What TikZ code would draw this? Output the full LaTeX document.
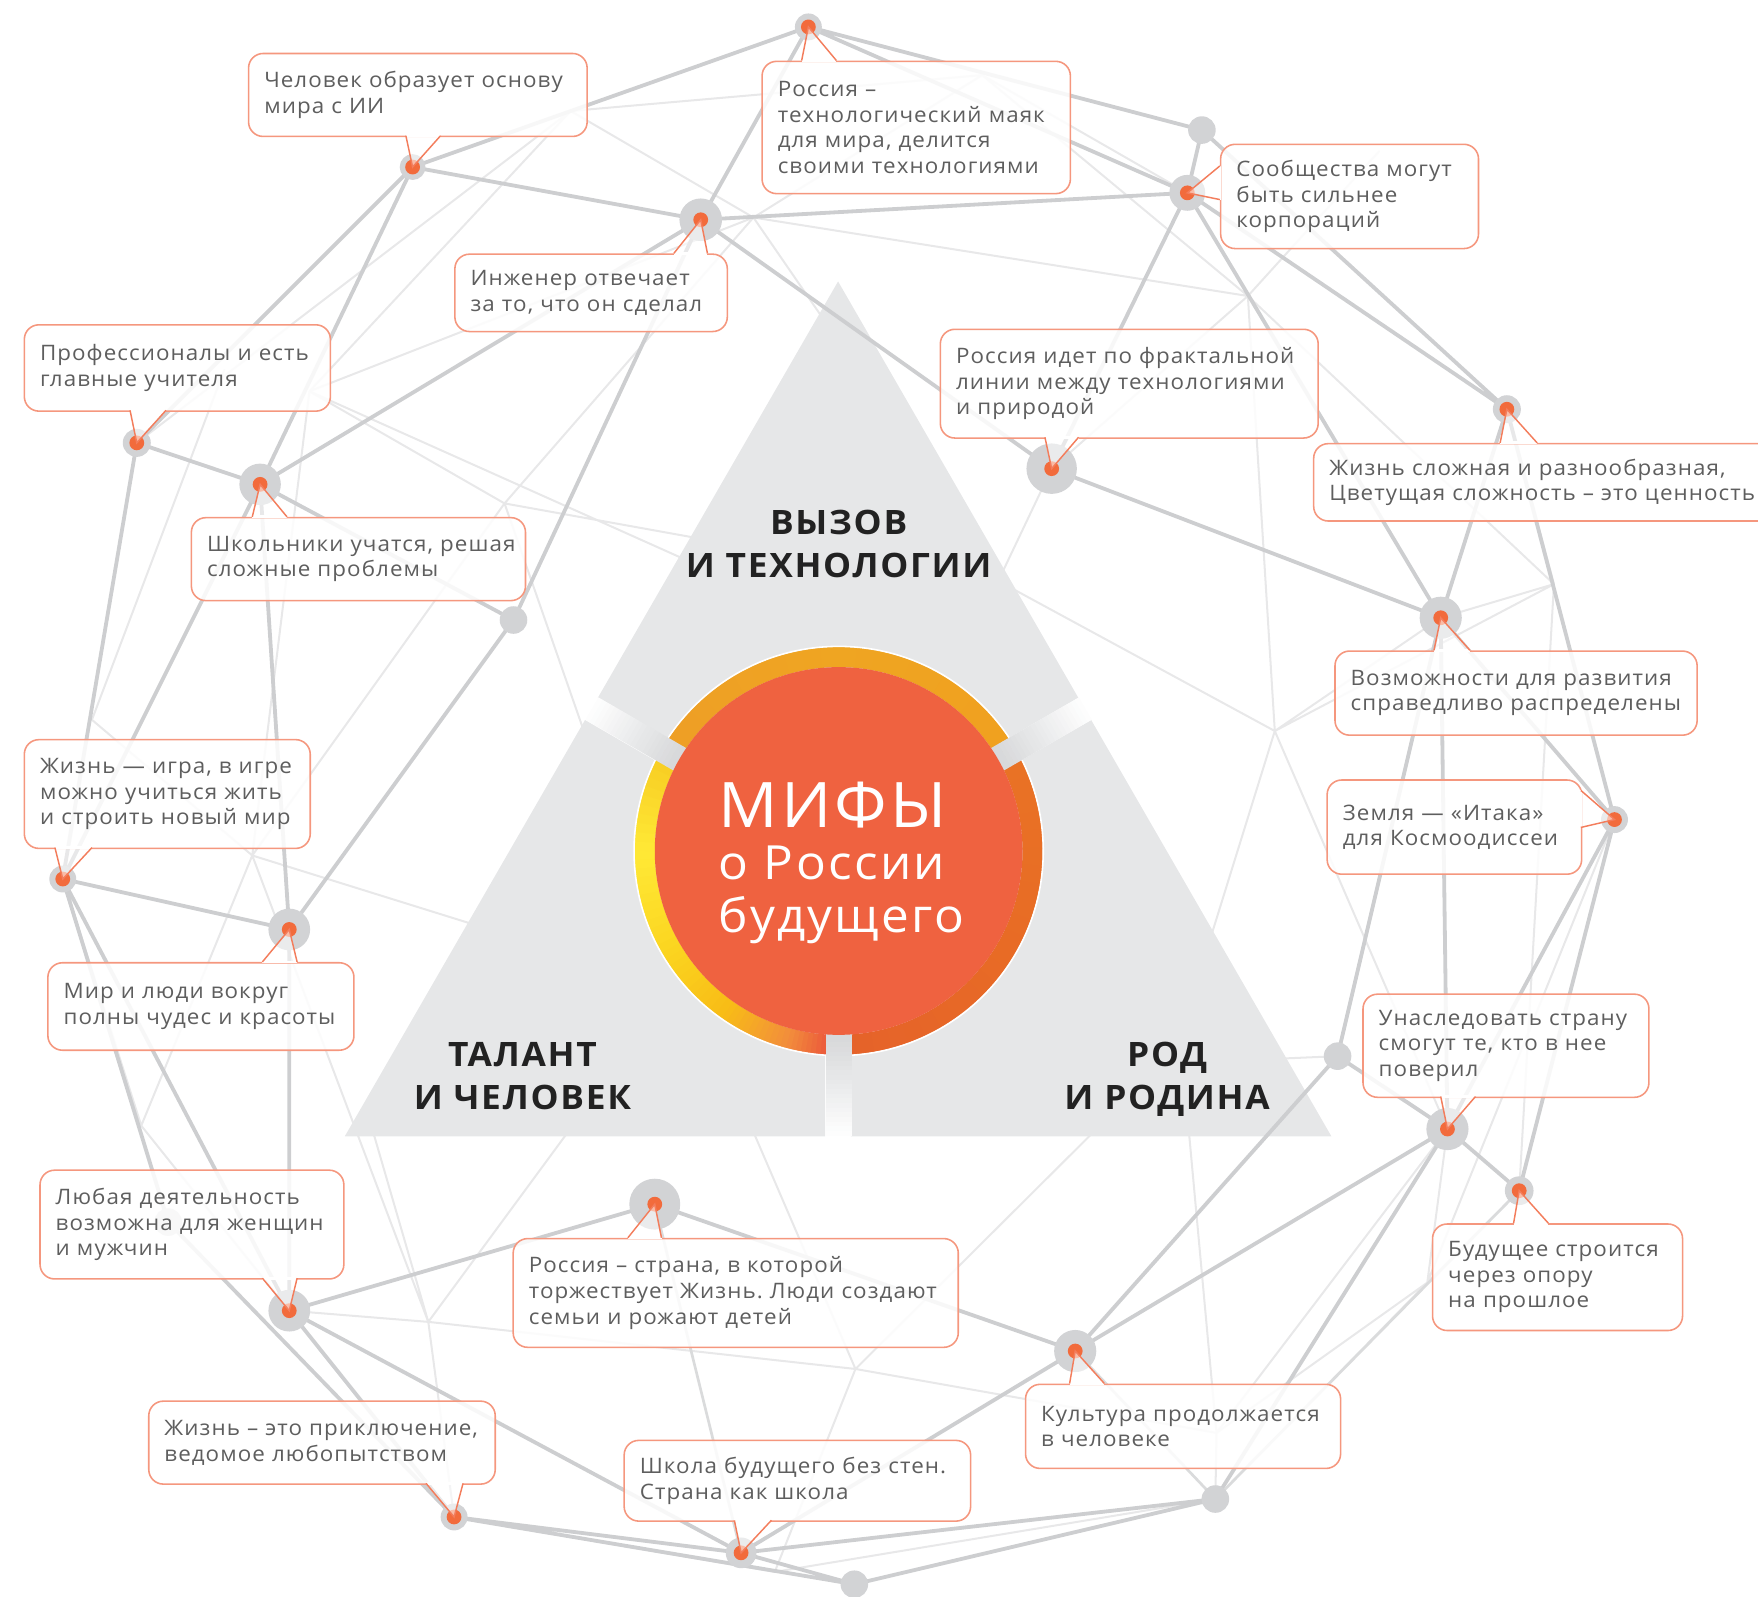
\documentclass[tikz,border=0pt]{standalone}
\usepackage{fontspec}
\setmainfont{Open Sans}[LetterSpace=5, FakeStretch=1.05]
\definecolor{dkc}{HTML}{CDCED0}
\definecolor{mdc}{HTML}{DADBDC}
\definecolor{ltc}{HTML}{E8E8E9}
\definecolor{haloc}{HTML}{D2D3D5}
\definecolor{dotc}{HTML}{F26B3C}
\definecolor{boxc}{HTML}{F5977E}
\definecolor{ptrc}{HTML}{F37D5C}
\definecolor{txtc}{HTML}{5E5E5E}
\definecolor{tric}{HTML}{E6E7E8}
\definecolor{bandc}{HTML}{D8D9DB}
\definecolor{corec}{HTML}{EF6240}
\definecolor{ttlc}{HTML}{222222}
\definecolor{rRed}{HTML}{E8413A}
\definecolor{rOra}{HTML}{F28D3C}
\definecolor{rGold}{HTML}{F8BC16}
\definecolor{rYel}{HTML}{FBD520}
\definecolor{rBri}{HTML}{FFE936}
\definecolor{rUL}{HTML}{F6C820}
\definecolor{rTopL}{HTML}{EE9E26}
\definecolor{rTop}{HTML}{EFA522}
\definecolor{rTopR}{HTML}{F0A01F}
\definecolor{rRT}{HTML}{E97325}
\definecolor{rRight}{HTML}{E86B25}
\definecolor{rRB}{HTML}{E5622A}
\newcommand\ringseg[4]{%
  \foreach \i in {0,...,11}{%
    \pgfmathsetmacro\sa{#1+(#2-#1)*\i/12}%
    \pgfmathsetmacro\ea{#1+(#2-#1)*(\i+1)/12+0.6}%
    \pgfmathtruncatemacro\pc{100-(\i+0.5)*100/12}%
    \draw[line width=18pt, draw={#3!\pc!#4}] (748,759) ++(\sa:173) arc[start angle=\sa, end angle=\ea, radius=173];
  }}
\newcommand\ptr[3]{%
  \fill[white, fill opacity=0.55] #1 -- #3 -- #2 -- cycle;
  \draw[white, line width=2.6pt] #1 -- #2;
  \draw[ptrc, line width=1.3pt, line join=miter] #1 -- #3 -- #2;}
\frenchspacing
\begin{document}
\begin{tikzpicture}[x=1pt,y=-1pt,
  dkl/.style={draw=dkc, line width=3.4pt, line cap=round},
  mdl/.style={draw=mdc, line width=2.4pt, line cap=round},
  ltl/.style={draw=ltc, line width=1.8pt, line cap=round},
  mbox/.style={draw=boxc, line width=1.4pt, rounded corners=13pt, fill=white, fill opacity=0.85, text opacity=1, text=txtc, align=left, inner xsep=14pt, inner ysep=0pt, anchor=north west, font=\fontsize{19}{22.8}\selectfont},
  ttl/.style={font=\bfseries\fontsize{30}{36}\selectfont, text=ttlc, inner sep=0pt, anchor=base},
  coretxt/.style={text=white, inner sep=0pt, anchor=base west}]
\useasboundingbox (0,0) rectangle (1568,1424);
% ---------- node positions ----------
\coordinate (n1) at (721,24);   \coordinate (n2) at (368,149);
\coordinate (n3) at (625,196);  \coordinate (n4) at (1072,116);
\coordinate (n5) at (1059,172); \coordinate (n6) at (122,395);
\coordinate (n7) at (232,432);  \coordinate (n8) at (938,418);
\coordinate (n9) at (1344,365); \coordinate (n10) at (458,553);
\coordinate (n11) at (1285,551);\coordinate (n12) at (56,784);
\coordinate (n13) at (1440,731);\coordinate (n14) at (258,829);
\coordinate (n15) at (1193,942);\coordinate (n16) at (1291,1007);
\coordinate (n17) at (584,1074);\coordinate (n18) at (1355,1062);
\coordinate (n19) at (258,1169);\coordinate (n20) at (959,1205);
\coordinate (n21) at (405,1353);\coordinate (n22) at (661,1385);
\coordinate (n23) at (1084,1337);\coordinate (n24) at (762,1413);
\coordinate (n25) at (150,1090);
% hidden junctions of the light web
\coordinate (ja) at (509,99);   \coordinate (jb) at (876,67);
\coordinate (jc) at (672,194);  \coordinate (jd) at (276,349);
\coordinate (je) at (450,449);  \coordinate (jf) at (1113,264);
\coordinate (jg) at (1386,521); \coordinate (jh) at (1137,652);
\coordinate (ji) at (82,642);   \coordinate (jj) at (225,763);
\coordinate (jk) at (126,1004); \coordinate (jl) at (382,1179);
\coordinate (jm) at (763,1221); \coordinate (jn) at (691,1402);
\coordinate (jo) at (1085,1278);\coordinate (jp) at (1273,1144);
% ends hidden under the triangles / boxes
\coordinate (te1) at (745,300);  \coordinate (te2) at (650,485);
\coordinate (te3) at (880,540);  \coordinate (te4) at (890,518);
\coordinate (te5) at (1060,900); \coordinate (te6) at (1100,946);
\coordinate (te7) at (440,830);  \coordinate (te8) at (527,670);
\coordinate (te9) at (510,1005); \coordinate (te10) at (330,1000);
\coordinate (te11) at (670,1005);\coordinate (te12) at (980,1005);
\coordinate (te13) at (1060,1005);\coordinate (te14) at (1230,135);
\coordinate (te15) at (200,330); \coordinate (te16) at (640,512);
% ---------- light web ----------
\draw[ltl] (ja)--(jb) (ja)--(jc) (ja)--(jd) (ja)--(n6) (jb)--(n5) (jb)--(jc)
  (jb)--(jf) (jc)--(jf) (jc)--(te1) (jc)--(je) (jd)--(jc) (jd)--(je) (jd)--(jj)
  (jd)--(te16) (ji)--(te15) (je)--(te2) (je)--(jj) (jj)--(ji) (jj)--(te7)
  (jj)--(jl) (jj)--(jk) (je)--(te8) (jk)--(n12) (jk)--(n19) (jk)--(n21)
  (jl)--(jm) (jl)--(te9) (jl)--(te10) (jl)--(n19) (jl)--(n21) (jm)--(te11)
  (jm)--(te12) (jm)--(jn) (jm)--(jo) (jn)--(n21) (jn)--(n23) (jo)--(te13)
  (jo)--(jp) (jo)--(n23) (jo)--(n16) (jp)--(n16) (jp)--(n18) (jp)--(n13)
  (jp)--(n23) (jf)--(jh) (jf)--(n8) (jf)--(te14) (jf)--(jg) (jg)--(n9) (jg)--(jh)
  (jg)--(n11) (jg)--(n18) (jh)--(te4) (jh)--(te5) (jh)--(n11) (jh)--(n16)
  (n15)--(te6) (n8)--(te3);
% ---------- triangles ----------
\fill[tric] (747.5,251) -- (961.75,622.3) -- (747.5,746) -- (533.25,622.3) -- cycle;
\fill[tric] (521.75,642.2) -- (307.5,1013.5) -- (736,1013.5) -- (736,766) -- cycle;
\fill[tric] (973.25,642.2) -- (1187.5,1013.5) -- (759,1013.5) -- (759,766) -- cycle;
% ---------- dark web ----------
\draw[dkl] (n1)--(n2) (n1)--(n3) (n1)--(n4) (n1)--(n5) (n2)--(n3) (n2)--(n6)
  (n2)--(n7) (n3)--(n5) (n3)--(n7) (n3)--(n8) (n3)--(n10) (n4)--(n5) (n4)--(n9)
  (n5)--(n9) (n5)--(n8) (n5)--(n11) (n8)--(n11) (n9)--(n11) (n9)--(n13)
  (n11)--(n13) (n11)--(n15) (n11)--(n16) (n13)--(n16) (n13)--(n18) (n15)--(n16)
  (n16)--(n18) (n15)--(n20) (n16)--(n20) (n16)--(n23) (n20)--(n17) (n20)--(n22)
  (n22)--(n23) (n24)--(n23) (n22)--(n24) (n21)--(n22) (n21)--(n24) (n19)--(n21)
  (n19)--(n22) (n19)--(n17) (n12)--(n19) (n12)--(n25) (n25)--(n21) (n12)--(n14)
  (n14)--(n19) (n14)--(n10) (n10)--(n7) (n7)--(n14) (n7)--(n12) (n6)--(n7)
  (n6)--(n12);
\draw[mdl] (n18)--(n23) (n20)--(n23) (n17)--(n22);
% ---------- central circle ----------
\ringseg{88}{105}{rRed}{rOra}
\ringseg{105}{125}{rOra}{rGold}
\ringseg{125}{150}{rGold}{rYel}
\ringseg{150}{180}{rYel}{rBri}
\ringseg{180}{212}{rBri}{rUL}
\ringseg{208}{270}{rTopL}{rTop}
\ringseg{270}{332}{rTop}{rTopR}
\ringseg{328}{390}{rRT}{rRight}
\ringseg{390}{450}{rRight}{rRB}
\draw[white, line width=1.4pt] (748,759) circle (182.5);
\foreach \s in {90,210,330}{
  \foreach \k in {0,...,24}{
    \pgfmathsetmacro\ra{150+\k*4.15}
    \pgfmathtruncatemacro\pc{max(0,min(100,100*(254-\ra)/86))}
    \draw[line width=23pt, draw={bandc!\pc!white}] (748,759) ++(\s:\ra) -- ++(\s:4.6);
  }}
\node[circle, fill=corec, minimum size=328pt, inner sep=0pt] (core) at (748,759) {};
\node[coretxt, font=\fontsize{56}{60}\selectfont] (m1) at (641,738) {МИФЫ};
\node[coretxt, font=\fontsize{42}{46}\selectfont] (m2) at (641,784) {о России};
\node[coretxt, font=\fontsize{42}{46}\selectfont] (m3) at (641,832) {будущего};
% ---------- titles ----------
\node[ttl] (t1) at (748,477) {ВЫЗОВ};
\node[ttl] (t2) at (748,515) {И ТЕХНОЛОГИИ};
\node[ttl] (t3) at (466,951) {ТАЛАНТ};
\node[ttl] (t4) at (466,990) {И ЧЕЛОВЕК};
\node[ttl] (t5) at (1041,951) {РОД};
\node[ttl] (t6) at (1041,990) {И РОДИНА};
% ---------- node discs ----------
\foreach \n/\r in {n1/12,n2/11.5,n3/19,n5/16,n6/12.5,n7/18.5,n8/22.5,n9/12.5,
  n11/18.8,n12/12,n13/12,n14/18.6,n16/18.8,n17/22.7,n18/12.8,n19/18.6,n20/18.8,
  n21/12,n22/13.7}{
  \fill[haloc] (\n) circle (\r);
  \fill[dotc] (\n) circle (6.6);}
\foreach \n in {n4,n10,n15,n23,n24,n25}{\fill[haloc] (\n) circle (12.3);}
% ---------- callout boxes ----------
\node[mbox, minimum width=302pt, minimum height=74pt, text width=274pt] (b1) at (221,47)
  {Человек~образует~основу\\мира с ИИ};
\ptr{(362,121)}{(393,121)}{(n2)}
\node[mbox, minimum width=275pt, minimum height=118pt, text width=247pt] (b2) at (679,54)
  {Россия –\\технологический~маяк\\для~мира,~делится\\своими~технологиями};
\ptr{(715,54)}{(746,54)}{(n1)}
\node[mbox, minimum width=230pt, minimum height=93pt, text width=202pt] (b3) at (1088,128)
  {Сообщества~могут\\быть сильнее\\корпораций};
\ptr{(1088,148)}{(1088,178)}{(n5)}
\node[mbox, minimum width=243pt, minimum height=69pt, text width=215pt] (b4) at (405,226)
  {Инженер~отвечает\\за~то,~что~он~сделал};
\ptr{(601,226)}{(631,226)}{(n3)}
\node[mbox, minimum width=273pt, minimum height=77pt, text width=245pt] (b5) at (21,289)
  {Профессионалы~и~есть\\главные учителя};
\ptr{(116,366)}{(148,366)}{(n6)}
\node[mbox, minimum width=337pt, minimum height=97pt, text width=309pt] (b6) at (838,293)
  {Россия~идет~по~фрактальной\\линии~между~технологиями\\и природой};
\ptr{(932,390)}{(962,390)}{(n8)}
\node[mbox, minimum width=430pt, minimum height=69pt, text width=402pt] (b7) at (1171,395)
  {Жизнь~сложная~и~разнообразная,\\Цветущая~сложность~–~это~ценность};
\ptr{(1338,395)}{(1371,395)}{(n9)}
\node[mbox, minimum width=298pt, minimum height=74pt, text width=270pt] (b8) at (170,461)
  {Школьники~учатся,~решая\\сложные~проблемы};
\ptr{(225,461)}{(256,461)}{(n7)}
\node[mbox, minimum width=323pt, minimum height=75pt, text width=295pt] (b9) at (1190,580)
  {Возможности~для~развития\\справедливо~распределены};
\ptr{(1279,580)}{(1311,580)}{(n11)}
\node[mbox, minimum width=255pt, minimum height=97pt, text width=227pt] (b10) at (21,659)
  {Жизнь~—~игра,~в~игре\\можно~учиться~жить\\и~строить~новый~мир};
\ptr{(49,756)}{(82,756)}{(n12)}
\node[mbox, minimum width=227pt, minimum height=84pt, text width=199pt] (b11) at (1183,695)
  {Земля~—~«Итака»\\для~Космоодиссеи};
\ptr{(1410,705)}{(1410,738)}{(n13)}
\node[mbox, minimum width=273pt, minimum height=78pt, text width=245pt] (b12) at (42,858)
  {Мир~и~люди~вокруг\\полны~чудес~и~красоты};
\ptr{(234,858)}{(265,858)}{(n14)}
\node[mbox, minimum width=255pt, minimum height=92pt, text width=227pt] (b13) at (1215,886)
  {Унаследовать~страну\\смогут~те,~кто~в~нее\\поверил};
\ptr{(1285,978)}{(1316,978)}{(n16)}
\node[mbox, minimum width=271pt, minimum height=97pt, text width=243pt] (b14) at (35,1043)
  {Любая~деятельность\\возможна~для~женщин\\и~мужчин};
\ptr{(234,1140)}{(265,1140)}{(n19)}
\node[mbox, minimum width=397pt, minimum height=97pt, text width=369pt] (b15) at (457,1104)
  {Россия~–~страна,~в~которой\\торжествует~Жизнь.~Люди~создают\\семьи~и~рожают~детей};
\ptr{(560,1104)}{(590,1104)}{(n17)}
\node[mbox, minimum width=223pt, minimum height=95pt, text width=195pt] (b16) at (1277,1091)
  {Будущее~строится\\через~опору\\на~прошлое};
\ptr{(1350,1091)}{(1381,1091)}{(n18)}
\node[mbox, minimum width=281pt, minimum height=75pt, text width=253pt] (b17) at (914,1234)
  {Культура~продолжается\\в~человеке};
\ptr{(954,1234)}{(985,1234)}{(n20)}
\node[mbox, minimum width=309pt, minimum height=74pt, text width=281pt] (b18) at (132,1249)
  {Жизнь~–~это~приключение,\\ведомое~любопытством};
\ptr{(380,1323)}{(413,1323)}{(n21)}
\node[mbox, minimum width=309pt, minimum height=72pt, text width=281pt] (b19) at (556,1284)
  {Школа~будущего~без~стен.\\Страна~как~школа};
\ptr{(655,1356)}{(688,1356)}{(n22)}
\end{tikzpicture}
\end{document}
